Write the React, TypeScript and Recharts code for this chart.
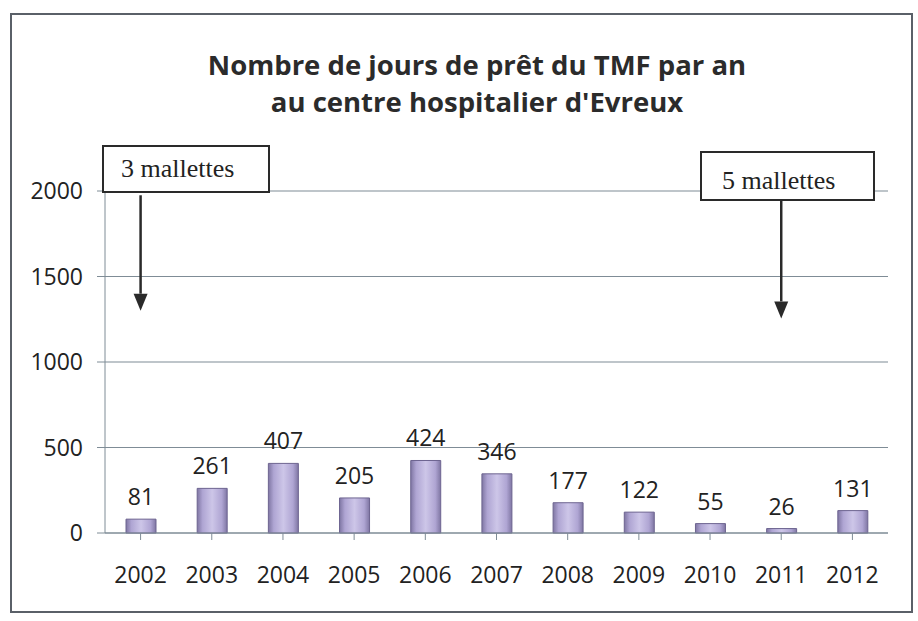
import React from "react";
import { BarChart, Bar, XAxis, YAxis, CartesianGrid, LabelList, ReferenceLine } from "recharts";

const years = ["2002", "2003", "2004", "2005", "2006", "2007", "2008", "2009", "2010", "2011", "2012"];
const days = [81, 261, 407, 205, 424, 346, 177, 122, 55, 26, 131];
const yTicks = [0, 500, 1000, 1500, 2000];
const titleLines = ["Nombre de jours de prêt du TMF par an", "au centre hospitalier d'Evreux"];
const notes = [
  { text: "3 mallettes", year: "2002", from: 1975, to: 1300 },
  { text: "5 mallettes", year: "2011", from: 1945, to: 1255 },
];

const data = years.map((y, i) => ({ year: y, days: days[i] }));

const AXIS = "#7f8c96";
const FONT = "'Open Sans', 'Noto Sans', sans-serif";
const SERIF = "'Liberation Serif', 'DejaVu Serif', serif";

const Arrow = (props: any) => {
  const { x1, y1, x2, y2 } = props;
  if (x1 == null) return null;
  const head = 17;
  return (
    <g>
      <line x1={x1} y1={y1} x2={x2} y2={y2 - head} stroke="#2a2a2a" strokeWidth={2.5} />
      <polygon points={`${x2 - 7},${y2 - head} ${x2 + 7},${y2 - head} ${x2},${y2}`} fill="#2a2a2a" />
    </g>
  );
};

export default function App() {
  return (
    <div style={{ position: "absolute", left: 0, top: 0, width: 918, height: 621, background: "#fff" }}>
      <div
        style={{
          position: "absolute",
          left: 10,
          top: 13,
          width: 903,
          height: 600,
          border: "2px solid #5a6068",
          boxSizing: "border-box",
        }}
      />
      <div
        style={{
          position: "absolute",
          left: 0,
          top: 46,
          width: 954,
          textAlign: "center",
          fontFamily: FONT,
          fontWeight: 700,
          fontSize: 27.5,
          lineHeight: "37px",
          color: "#2b2b2b",
        }}
      >
        {titleLines.map((t) => (
          <div key={t}>{t}</div>
        ))}
      </div>
      <BarChart
        width={918}
        height={621}
        data={data}
        margin={{ top: 191, right: 30, left: 0, bottom: 0 }}
        style={{ position: "absolute", left: 0, top: 0 }}
      >
        <defs>
          <linearGradient id="barGrad" x1="0" y1="0" x2="1" y2="0">
            <stop offset="0%" stopColor="#7f76a3" />
            <stop offset="18%" stopColor="#afa5d3" />
            <stop offset="50%" stopColor="#cdc6e8" />
            <stop offset="82%" stopColor="#afa5d3" />
            <stop offset="100%" stopColor="#7f76a3" />
          </linearGradient>
        </defs>
        <CartesianGrid vertical={false} stroke={AXIS} strokeWidth={1.2} />
        <XAxis
          dataKey="year"
          height={88}
          stroke={AXIS}
          tickSize={7}
          tickMargin={27}
          tick={{ fill: "#222", fontSize: 23, fontFamily: FONT }}
        />
        <YAxis
          width={105}
          domain={[0, 2000]}
          ticks={yTicks}
          stroke={AXIS}
          tickSize={8}
          tickMargin={14}
          tick={{ fill: "#222", fontSize: 23, fontFamily: FONT }}
        />
        <Bar dataKey="days" fill="url(#barGrad)" stroke="#6d6490" strokeWidth={1} barSize={30} isAnimationActive={false}>
          <LabelList dataKey="days" position="top" offset={14} style={{ fill: "#222", fontSize: 23, fontFamily: FONT }} />
        </Bar>
        {notes.map((n) => (
          <ReferenceLine
            key={n.text}
            segment={[
              { x: n.year, y: n.from },
              { x: n.year, y: n.to },
            ]}
            shape={<Arrow />}
            ifOverflow="extendDomain"
          />
        ))}
      </BarChart>
      <div
        style={{
          position: "absolute",
          left: 102,
          top: 145,
          width: 168,
          height: 48,
          border: "2px solid #2a2a2a",
          boxSizing: "border-box",
          background: "#fff",
          fontFamily: SERIF,
          fontSize: 26,
          lineHeight: "30px",
          padding: "7px 0 0 17px",
          color: "#222",
        }}
      >
        {notes[0].text}
      </div>
      <div
        style={{
          position: "absolute",
          left: 700,
          top: 151,
          width: 175,
          height: 50,
          border: "2px solid #2a2a2a",
          boxSizing: "border-box",
          background: "#fff",
          fontFamily: SERIF,
          fontSize: 26,
          lineHeight: "30px",
          padding: "13px 0 0 20px",
          color: "#222",
        }}
      >
        {notes[1].text}
      </div>
    </div>
  );
}
